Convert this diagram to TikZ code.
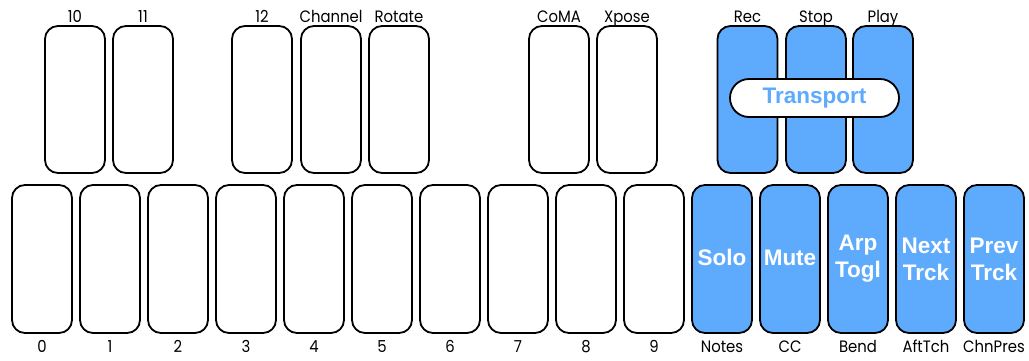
\documentclass[tikz,border=0pt]{standalone}
\usepackage{fontspec}
\setmainfont[FakeStretch=0.9]{Poppins}
\newfontfamily\keyfont{Liberation Sans}
\definecolor{keyblue}{HTML}{5EABFD}
\begin{document}
\begin{tikzpicture}[x=1pt,y=-1pt,
  keybox/.style={draw=black,line width=1.8pt,rounded corners=13pt,minimum width=60pt,inner sep=0pt,fill=white},
  topkey/.style={keybox,minimum height=147pt},
  botkey/.style={keybox,minimum height=148pt},
  bluekey/.style={fill=keyblue,text=white,font=\keyfont\bfseries\fontsize{22.5}{27}\selectfont,align=center},
  lbl/.style={anchor=base,inner sep=0pt,font=\fontsize{16.5}{18}\selectfont},
  pill/.style={draw=black,line width=1.8pt,fill=white,rounded corners=19pt,minimum width=169pt,minimum height=38pt,inner sep=0pt,text=keyblue,font=\keyfont\bfseries\fontsize{22.5}{27}\selectfont}]
\useasboundingbox (0,0) rectangle (1029,360);
% top row
\foreach \n/\x/\t in {t0/75/10,t1/143/11,t2/262/12,t3/331/Channel,t4/399/Rotate,t5/559/CoMA,t6/627/Xpose}{
  \node[topkey] (\n) at (\x,99.5) {};
  \node[lbl] (\n l) at (\x,22) {\t};
}
\foreach \n/\x/\t in {t7/747.5/Rec,t8/816/Stop,t9/883/Play}{
  \node[topkey,fill=keyblue] (\n) at (\x,99.5) {};
  \node[lbl] (\n l) at (\x,22) {\t};
}
\node[pill] (transport) at (814.5,98) {\raisebox{-1pt}{Transport}};
% bottom row
\foreach \i in {0,...,9}{
  \node[botkey] (b\i) at ({42+68*\i},259) {};
  \node[lbl] (b\i l) at ({42+68*\i},352) {\i};
}
\foreach \i/\t/\l in {10/Solo/Notes,11/Mute/CC}{
  \node[botkey,bluekey] (b\i) at ({42+68*\i},259) {\raisebox{3pt}{\t}};
  \node[lbl] (b\i l) at ({42+68*\i},352) {\l};
}
\foreach \i/\t/\l in {12/{Arp\\Togl}/Bend,13/{Next\\Trck}/AftTch,14/{Prev\\Trck}/ChnPres}{
  \node[botkey,bluekey] (b\i) at ({42+68*\i},259) {\t};
  \node[lbl] (b\i l) at ({42+68*\i},352) {\l};
}
\end{tikzpicture}
\end{document}
